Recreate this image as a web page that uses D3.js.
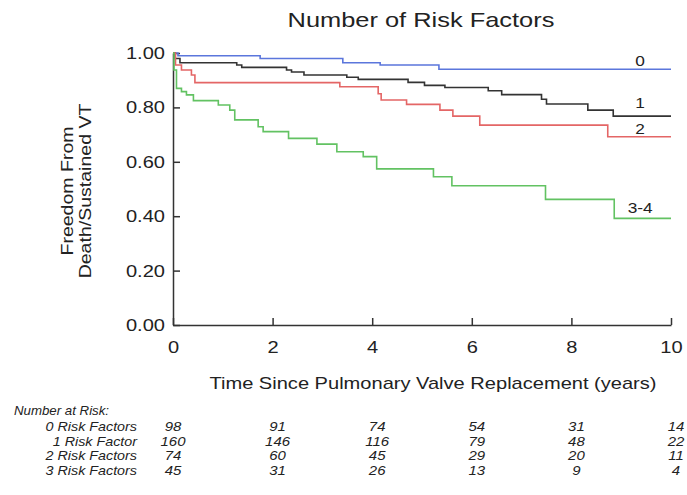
<!DOCTYPE html>
<html>
<head>
<meta charset="utf-8">
<script src="https://cdn.jsdelivr.net/npm/d3@7/dist/d3.min.js"></script>
<style>
  html, body { margin: 0; padding: 0; background: #fff; }
  svg { display: block; font-family: "Liberation Sans", Arial, sans-serif; }
</style>
</head>
<body>
<svg id="chart" width="687" height="495"></svg>
<script>
// Kaplan-Meier step data: event times (years) and survival after each step
const rf0Times = [0, 0.1, 1.75, 3.41, 4.16, 5.34, 10];
const rf0Surv  = [1.0, 0.99, 0.98, 0.964, 0.956, 0.94, 0.94];

const rf1Times = [0, 0.04, 0.14, 1.28, 1.38, 2.28, 2.38, 2.63, 3.49, 3.72, 4.72, 5.05, 5.46, 6.33, 6.6, 7.4, 7.5, 8.33, 8.84, 10];
const rf1Surv  = [1.0, 0.98, 0.964, 0.956, 0.947, 0.9375, 0.93, 0.919, 0.911, 0.903, 0.892, 0.881, 0.873, 0.861, 0.847, 0.83, 0.8125, 0.79, 0.768, 0.768];

const rf2Times = [0, 0.05, 0.17, 0.37, 0.44, 3.35, 4.12, 4.18, 4.69, 5.36, 5.62, 6.16, 8.73, 10];
const rf2Surv  = [1.0, 0.956, 0.9375, 0.919, 0.891, 0.876, 0.85, 0.827, 0.811, 0.79, 0.768, 0.735, 0.692, 0.692];

const rf3Times = [0, 0.02, 0.07, 0.17, 0.27, 0.41, 0.91, 1.14, 1.24, 1.71, 1.81, 2.32, 2.89, 3.29, 3.82, 4.09, 5.23, 5.6, 7.48, 8.86, 10];
const rf3Surv  = [1.0, 0.9375, 0.87, 0.858, 0.846, 0.825, 0.809, 0.79, 0.754, 0.729, 0.711, 0.686, 0.665, 0.637, 0.619, 0.574, 0.545, 0.512, 0.462, 0.392, 0.392];

const curveLabels = ["0", "1", "2", "3-4"];
const curveColors = ["#5b76dc", "#333333", "#e46666", "#62c262"];

const xTicks = [0, 2, 4, 6, 8, 10];
const yTicks = [0, 0.2, 0.4, 0.6, 0.8, 1.0];

const riskRowLabels = ["0 Risk Factors", "1 Risk Factor", "2 Risk Factors", "3 Risk Factors"];
const riskRF0 = [98, 91, 74, 54, 31, 14];
const riskRF1 = [160, 146, 116, 79, 48, 22];
const riskRF2 = [74, 60, 45, 29, 20, 11];
const riskRF3 = [45, 31, 26, 13, 9, 4];

const series = [
  { times: rf0Times, surv: rf0Surv },
  { times: rf1Times, surv: rf1Surv },
  { times: rf2Times, surv: rf2Surv },
  { times: rf3Times, surv: rf3Surv }
];
const riskRows = [riskRF0, riskRF1, riskRF2, riskRF3];

const svg = d3.select("#chart");
const plotLeft = 173, plotRight = 671, plotTop = 53, plotBottom = 325;

const x = d3.scaleLinear().domain([0, 10]).range([plotLeft, plotRight]);
const y = d3.scaleLinear().domain([0, 1]).range([plotBottom, plotTop]);

const axisColor = "#333";
const textColor = "#222";

// Widen glyphs horizontally (the typeface used here is broader than Arial)
function widen(sel, k) {
  sel.each(function () {
    const w = this.getComputedTextLength();
    d3.select(this).attr("textLength", w * k).attr("lengthAdjust", "spacingAndGlyphs");
  });
}

// Title
svg.append("text")
  .attr("x", 421).attr("y", 27)
  .attr("text-anchor", "middle")
  .attr("font-size", 21)
  .attr("fill", textColor)
  .text("Number of Risk Factors")
  .call(widen, 1.21);

// Y axis
const yAxis = d3.axisLeft(y)
  .tickValues(yTicks)
  .tickFormat(d3.format(".2f"))
  .tickSizeInner(-7)
  .tickSizeOuter(0)
  .tickPadding(8);
const gy = svg.append("g").attr("transform", `translate(${plotLeft},0)`).call(yAxis);
gy.select(".domain").attr("stroke", axisColor).attr("stroke-width", 1.5);
gy.selectAll(".tick line").attr("stroke", axisColor).attr("stroke-width", 1.5);
gy.selectAll(".tick text")
  .attr("font-size", 17)
  .attr("fill", textColor)
  .attr("font-family", "Liberation Sans, Arial, sans-serif")
  .call(widen, 1.18);

// X axis
const xAxis = d3.axisBottom(x)
  .tickValues(xTicks)
  .tickFormat(d3.format("d"))
  .tickSizeInner(-7)
  .tickSizeOuter(0)
  .tickPadding(16);
const gx = svg.append("g").attr("transform", `translate(0,${plotBottom})`).call(xAxis);
gx.select(".domain").attr("stroke", axisColor).attr("stroke-width", 1.5);
gx.selectAll(".tick line").attr("stroke", axisColor).attr("stroke-width", 1.5);
gx.selectAll(".tick text")
  .attr("font-size", 17)
  .attr("fill", textColor)
  .attr("font-family", "Liberation Sans, Arial, sans-serif")
  .call(widen, 1.18);

// Axis titles
const yTitle = svg.append("text")
  .attr("transform", "translate(73,191) rotate(-90)")
  .attr("text-anchor", "middle")
  .attr("font-size", 16)
  .attr("fill", textColor);
yTitle.append("tspan").attr("x", 0).attr("y", 0).text("Freedom From");
yTitle.append("tspan").attr("x", 0).attr("y", 18).text("Death/Sustained VT");
yTitle.selectAll("tspan").call(widen, 1.22);

svg.append("text")
  .attr("x", 433).attr("y", 389)
  .attr("text-anchor", "middle")
  .attr("font-size", 17)
  .attr("fill", textColor)
  .text("Time Since Pulmonary Valve Replacement (years)")
  .call(widen, 1.18);

// Survival step curves
const line = d3.line()
  .x(d => x(d[0]))
  .y(d => y(d[1]))
  .curve(d3.curveStepAfter);

series.forEach((s, i) => {
  const pts = s.times.map((t, k) => [t, s.surv[k]]);
  svg.append("path")
    .datum(pts)
    .attr("d", line)
    .attr("fill", "none")
    .attr("stroke", curveColors[i])
    .attr("stroke-width", 1.6);
});

// Curve end labels
const labelY = [0.952, 0.798, 0.702, 0.412];
curveLabels.forEach((lab, i) => {
  svg.append("text")
    .attr("x", x(9.38)).attr("y", y(labelY[i]))
    .attr("text-anchor", "middle")
    .attr("font-size", 15)
    .attr("fill", textColor)
    .text(lab)
    .call(widen, 1.15);
});

// Number at risk table
const tableFont = 13;
svg.append("text")
  .attr("x", 14).attr("y", 415)
  .attr("font-size", tableFont)
  .attr("font-style", "italic")
  .attr("fill", textColor)
  .text("Number at Risk:")
  .call(widen, 1.02);

const rowY = [431, 445.5, 460, 474.5];
riskRowLabels.forEach((lab, r) => {
  svg.append("text")
    .attr("x", 137).attr("y", rowY[r])
    .attr("text-anchor", "end")
    .attr("font-size", tableFont)
    .attr("font-style", "italic")
    .attr("fill", textColor)
    .text(lab)
    .call(widen, 1.1);
  riskRows[r].forEach((n, c) => {
    svg.append("text")
      .attr("x", x(xTicks[c]) + (c === 0 ? 0 : 5)).attr("y", rowY[r])
      .attr("text-anchor", "middle")
      .attr("font-size", tableFont)
      .attr("font-style", "italic")
      .attr("fill", textColor)
      .text(n)
      .call(widen, 1.15);
  });
});
</script>
</body>
</html>
